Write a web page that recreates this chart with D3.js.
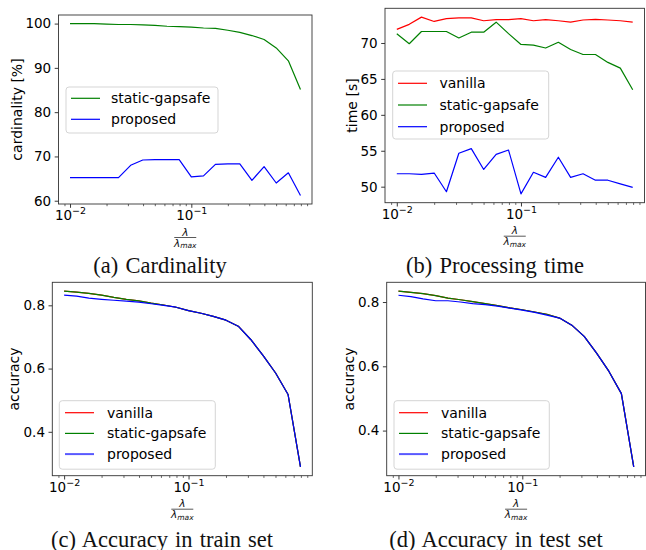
<!DOCTYPE html>
<html>
<head>
<meta charset="utf-8">
<script src="https://cdn.jsdelivr.net/npm/d3@7"></script>
<style>
  body { margin: 0; background: #fff; }
</style>
</head>
<body>
<svg id="fig" width="646" height="550"></svg>
<script>
// lambda / lambda_max grid (x values, shared by all panels)
const lambdas = [0.01, 0.0126, 0.0158, 0.02, 0.0251, 0.0316, 0.0398, 0.0501, 0.0631, 0.0794,
                 0.1, 0.126, 0.158, 0.2, 0.251, 0.316, 0.398, 0.501, 0.631, 0.794]
const xMajorTicks = [0.01, 0.1]
const xMajorLabels = ['\u22122', '\u22121']

// (a) cardinality [%]
const cardStatic = [100, 100, 100, 99.9, 99.8, 99.8, 99.7, 99.6, 99.4, 99.3,
                    99.2, 99.0, 98.9, 98.5, 98.0, 97.3, 96.4, 94.5, 91.6, 85.1]
const cardProposed = [65.2, 65.2, 65.2, 65.2, 65.2, 68.0, 69.2, 69.3, 69.3, 69.3,
                      65.4, 65.6, 68.2, 68.3, 68.3, 64.6, 67.7, 64.0, 66.3, 61.2]
const cardTicks = [60, 70, 80, 90, 100]

// (b) processing time [s]
const timeVanilla = [71.9, 72.6, 73.6, 73.0, 73.4, 73.5, 73.5, 73.1, 73.25, 73.25,
                     73.4, 73.1, 73.25, 73.1, 72.9, 73.2, 73.3, 73.2, 73.1, 72.9]
const timeStatic = [71.3, 69.9, 71.6, 71.6, 71.6, 70.7, 71.5, 71.5, 72.9, 71.3,
                    69.8, 69.7, 69.3, 70.1, 69.1, 68.4, 68.4, 67.3, 66.5, 63.5]
const timeProposed = [51.8, 51.8, 51.7, 51.9, 49.3, 54.65, 55.3, 52.4, 54.5, 55.1,
                      49.0, 52.0, 51.3, 54.1, 51.3, 51.8, 50.9, 50.9, 50.4, 49.9]
const timeTicks = [50, 55, 60, 65, 70]

// (c) accuracy in train set
const trainVanilla = [0.845, 0.842, 0.838, 0.832, 0.825, 0.819, 0.814, 0.807, 0.801, 0.794,
                      0.783, 0.775, 0.765, 0.753, 0.734, 0.692, 0.641, 0.586, 0.518, 0.289]
const trainStatic = [0.845, 0.842, 0.838, 0.832, 0.825, 0.819, 0.814, 0.807, 0.801, 0.794,
                     0.783, 0.775, 0.765, 0.753, 0.734, 0.692, 0.641, 0.586, 0.518, 0.289]
const trainProposed = [0.832, 0.829, 0.823, 0.819, 0.816, 0.813, 0.810, 0.805, 0.800, 0.794,
                       0.783, 0.775, 0.765, 0.753, 0.734, 0.692, 0.641, 0.586, 0.518, 0.289]

// (d) accuracy in test set
const testVanilla = [0.834, 0.830, 0.826, 0.820, 0.812, 0.807, 0.801, 0.795, 0.789, 0.782,
                     0.776, 0.769, 0.762, 0.750, 0.728, 0.693, 0.641, 0.584, 0.515, 0.287]
const testStatic = [0.834, 0.830, 0.826, 0.820, 0.812, 0.807, 0.801, 0.795, 0.789, 0.782,
                    0.776, 0.769, 0.762, 0.750, 0.728, 0.693, 0.641, 0.584, 0.515, 0.287]
const testProposed = [0.821, 0.817, 0.810, 0.804, 0.804, 0.800, 0.795, 0.792, 0.787, 0.781,
                      0.775, 0.768, 0.759, 0.750, 0.728, 0.693, 0.641, 0.584, 0.515, 0.287]
const accTicks = [0.4, 0.6, 0.8]

const RED = '#ff0000'
const GREEN = '#008000'
const BLUE = '#0000ff'
const SANS = 'DejaVu Sans, sans-serif'
const SERIF = 'Liberation Serif, Times New Roman, serif'

const panels = [
    {
        frame: [58.5, 15, 312, 204],
        yTicks: cardTicks, yFormat: d3.format('d'),
        ylabel: 'cardinality [%]', ylabelX: 17,
        series: [
            { name: 'static-gapsafe', color: GREEN, values: cardStatic },
            { name: 'proposed', color: BLUE, values: cardProposed }
        ],
        legend: { x: 66, y: 87, w: 152, h: 46, top: 98.3, row: 21, lineX: 71, textX: 111 },
        caption: '(a) Cardinality', capX: 160, capY: 273
    },
    {
        frame: [385, 8.3, 644.5, 202.7],
        yTicks: timeTicks, yFormat: d3.format('d'),
        ylabel: 'time [s]', ylabelX: 352,
        series: [
            { name: 'vanilla', color: RED, values: timeVanilla },
            { name: 'static-gapsafe', color: GREEN, values: timeStatic },
            { name: 'proposed', color: BLUE, values: timeProposed }
        ],
        legend: { x: 392.7, y: 71, w: 156, h: 68, top: 83.3, row: 21.7, lineX: 398, textX: 439.5 },
        caption: '(b) Processing time', capX: 495, capY: 273
    },
    {
        frame: [52.3, 282.3, 312.3, 475.7],
        yTicks: accTicks, yFormat: d3.format('.1f'),
        ylabel: 'accuracy', ylabelX: 14,
        series: [
            { name: 'vanilla', color: RED, values: trainVanilla },
            { name: 'static-gapsafe', color: GREEN, values: trainStatic },
            { name: 'proposed', color: BLUE, values: trainProposed, handleWidth: 2, handleOpacity: 0.65 }
        ],
        legend: { x: 59.3, y: 400.7, w: 156, h: 68.5, top: 412.7, row: 20.7, lineX: 65, textX: 107 },
        caption: '(c) Accuracy in train set', capX: 162, capY: 546.5
    },
    {
        frame: [386.7, 282.3, 645.5, 475.7],
        yTicks: accTicks, yFormat: d3.format('.1f'),
        ylabel: 'accuracy', ylabelX: 349,
        series: [
            { name: 'vanilla', color: RED, values: testVanilla },
            { name: 'static-gapsafe', color: GREEN, values: testStatic },
            { name: 'proposed', color: BLUE, values: testProposed, handleWidth: 2, handleOpacity: 0.65 }
        ],
        legend: { x: 394, y: 400.7, w: 155.3, h: 68.5, top: 412.7, row: 20.7, lineX: 399, textX: 441 },
        caption: '(d) Accuracy in test set', capX: 496, capY: 546.5
    }
]

const svg = d3.select('#fig')

function minorTicks(domain) {
    const ticks = []
    for (let e = -4; e <= 1; e++) {
        for (let m = 2; m <= 9; m++) {
            const v = m * Math.pow(10, e)
            if (v >= domain[0] && v <= domain[1]) ticks.push(v)
        }
    }
    return ticks
}

function drawPanel(p) {
    const [x0, y0, x1, y1] = p.frame
    const g = svg.append('g')

    // matplotlib-like autoscale: 5% margins (log space for x)
    const lx = lambdas.map(Math.log10)
    const lxPad = (d3.max(lx) - d3.min(lx)) * 0.05
    const xDomain = [Math.pow(10, d3.min(lx) - lxPad), Math.pow(10, d3.max(lx) + lxPad)]
    const all = p.series.flatMap(s => s.values)
    const yPad = (d3.max(all) - d3.min(all)) * 0.05

    const xScale = d3.scaleLog().domain(xDomain).range([x0, x1])
    const yScale = d3.scaleLinear().domain([d3.min(all) - yPad, d3.max(all) + yPad]).range([y1, y0])

    // minor x ticks
    g.append('g')
        .attr('transform', `translate(0,${y1})`)
        .call(d3.axisBottom(xScale).tickValues(minorTicks(xDomain)).tickSize(2.2).tickFormat(''))
        .call(a => a.select('.domain').remove())
        .selectAll('line').attr('stroke', '#222').attr('stroke-width', 0.7)

    // major x ticks with 10^k labels
    const xAxis = g.append('g')
        .attr('transform', `translate(0,${y1})`)
        .call(d3.axisBottom(xScale).tickValues(xMajorTicks).tickSize(3.8).tickPadding(2.5).tickFormat(() => ''))
        .call(a => a.select('.domain').remove())
    xAxis.selectAll('line').attr('stroke', '#222').attr('stroke-width', 0.9)
    xAxis.selectAll('text')
        .attr('font-family', SANS)
        .attr('font-size', 13.5)
        .attr('fill', '#000')
        .each(function (d, i) {
            const t = d3.select(this)
            t.append('tspan').text('10')
            t.append('tspan').attr('font-size', 9.5).attr('dy', '-0.6em').text(xMajorLabels[i])
        })

    // y axis
    const yAxis = g.append('g')
        .attr('transform', `translate(${x0},0)`)
        .call(d3.axisLeft(yScale).tickValues(p.yTicks).tickSize(3.8).tickPadding(3.5).tickFormat(p.yFormat))
        .call(a => a.select('.domain').remove())
    yAxis.selectAll('line').attr('stroke', '#222').attr('stroke-width', 0.9)
    yAxis.selectAll('text').attr('font-family', SANS).attr('font-size', 13.5).attr('fill', '#000')

    // series
    const line = d3.line().x((d, i) => xScale(lambdas[i])).y(d => yScale(d))
    g.append('g')
        .selectAll('path')
        .data(p.series)
        .join('path')
        .attr('d', s => line(s.values))
        .attr('fill', 'none')
        .attr('stroke', s => s.color)
        .attr('stroke-width', 1.2)
        .attr('stroke-linejoin', 'round')

    // frame
    g.append('rect')
        .attr('x', x0).attr('y', y0)
        .attr('width', x1 - x0).attr('height', y1 - y0)
        .attr('fill', 'none').attr('stroke', '#333').attr('stroke-width', 0.9)

    // y label
    g.append('text')
        .attr('transform', `translate(${p.ylabelX},${(y0 + y1) / 2}) rotate(-90)`)
        .attr('text-anchor', 'middle')
        .attr('dominant-baseline', 'central')
        .attr('font-family', SANS)
        .attr('font-size', 14)
        .attr('fill', '#000')
        .text(p.ylabel)

    // x label: lambda / lambda_max
    const cx = (x0 + x1) / 2
    const lab = g.append('g').attr('font-family', SANS).attr('font-style', 'italic').attr('fill', '#111')
    lab.append('text')
        .attr('x', cx).attr('y', y1 + 31.5)
        .attr('text-anchor', 'middle').attr('font-size', 10.5)
        .text('\u03bb')
    lab.append('line')
        .attr('x1', cx - 11).attr('x2', cx + 11)
        .attr('y1', y1 + 33.5).attr('y2', y1 + 33.5)
        .attr('stroke', '#111').attr('stroke-width', 0.7)
    const den = lab.append('text')
        .attr('x', cx).attr('y', y1 + 42.5)
        .attr('text-anchor', 'middle').attr('font-size', 10.5)
    den.append('tspan').text('\u03bb')
    den.append('tspan').attr('font-size', 7.5).attr('dy', '0.25em').text('max')

    // legend
    const L = p.legend
    const leg = g.append('g')
    leg.append('rect')
        .attr('x', L.x).attr('y', L.y).attr('width', L.w).attr('height', L.h)
        .attr('rx', 3)
        .attr('fill', '#fff').attr('fill-opacity', 0.8)
        .attr('stroke', '#d0d0d0').attr('stroke-width', 0.9)
    const rows = leg.selectAll('g.row')
        .data(p.series)
        .join('g')
        .attr('class', 'row')
        .attr('transform', (s, i) => `translate(0,${L.top + i * L.row})`)
    rows.append('line')
        .attr('x1', L.lineX).attr('x2', L.lineX + 29)
        .attr('stroke', s => s.color)
        .attr('stroke-width', s => s.handleWidth || 1.2)
        .attr('stroke-opacity', s => s.handleOpacity || 1)
    rows.append('text')
        .attr('x', L.textX).attr('dy', '0.35em')
        .attr('font-family', SANS).attr('font-size', 14).attr('fill', '#000')
        .text(s => s.name)

    // caption
    g.append('text')
        .attr('x', p.capX).attr('y', p.capY)
        .attr('text-anchor', 'middle')
        .attr('font-family', SERIF)
        .attr('font-size', 22.5)
        .attr('word-spacing', 1.5)
        .attr('fill', '#111')
        .text(p.caption)
}

panels.forEach(drawPanel)
</script>
</body>
</html>
